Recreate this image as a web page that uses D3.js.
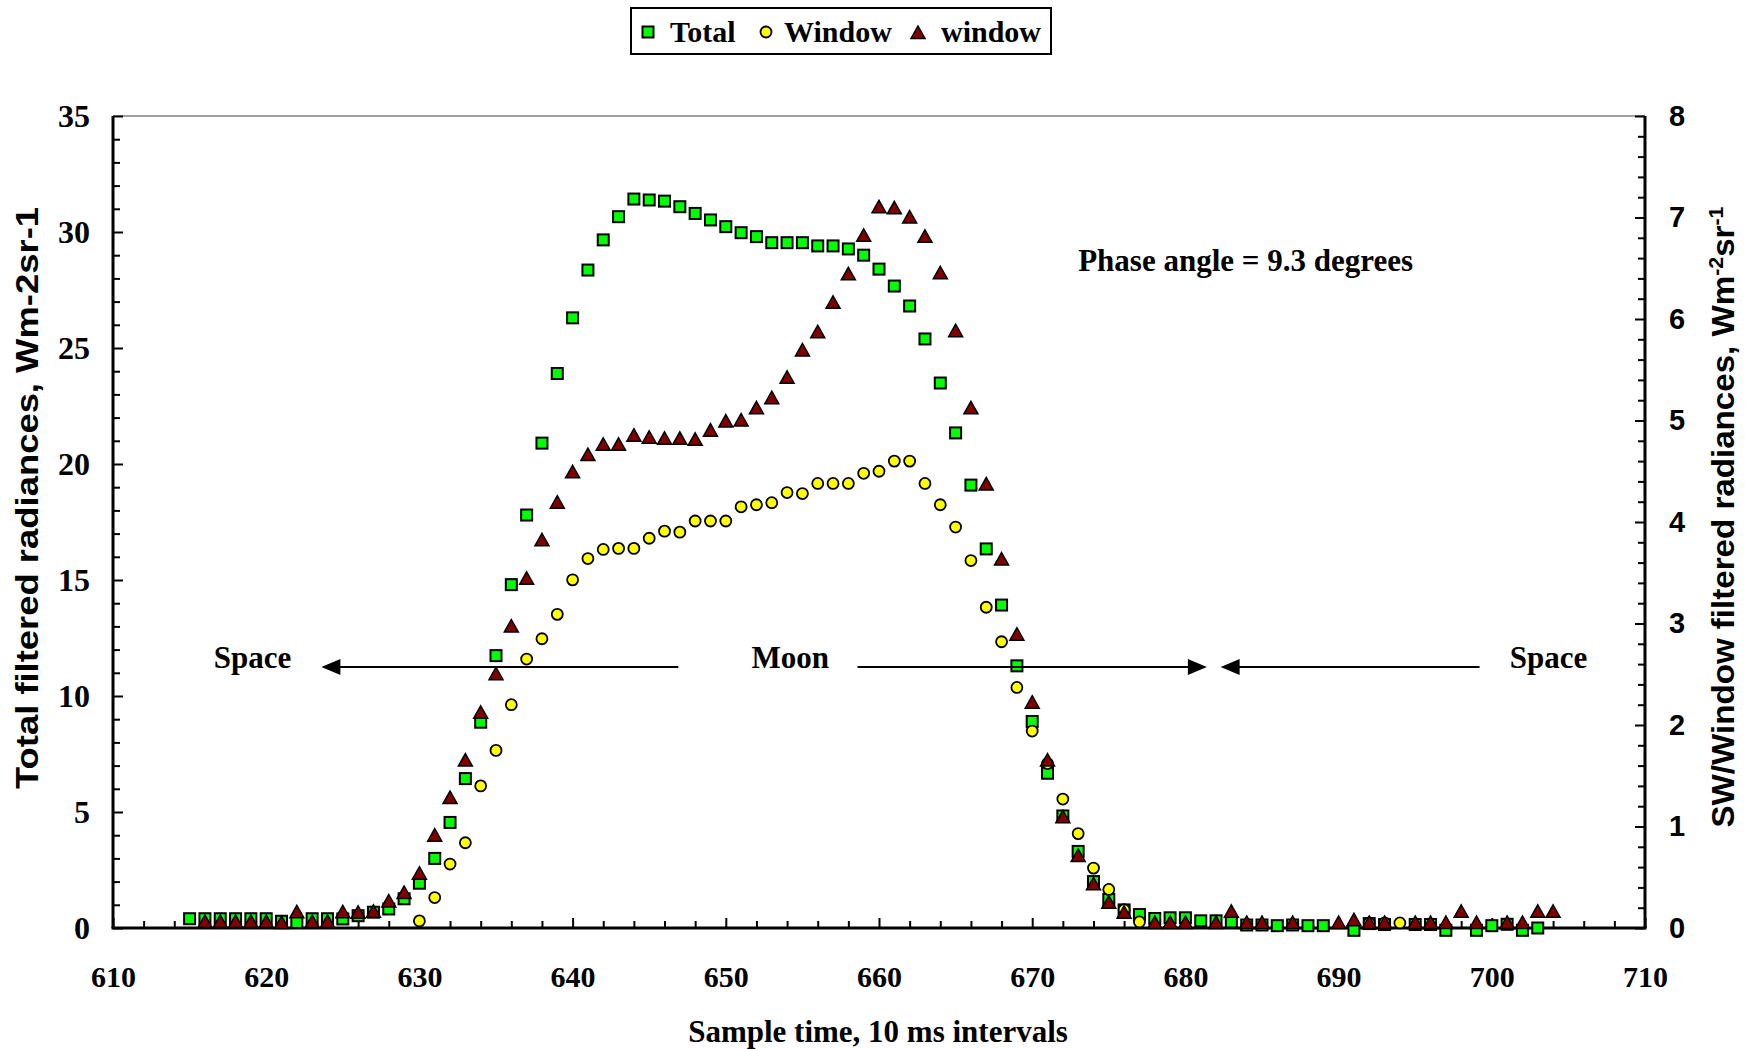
<!DOCTYPE html>
<html>
<head>
<meta charset="utf-8">
<script src="https://cdn.jsdelivr.net/npm/d3@7/dist/d3.min.js"></script>
<style>
  html, body { margin: 0; padding: 0; background: #ffffff; }
  svg { display: block; }
  .serif { font-family: "Liberation Serif", "Times New Roman", serif; font-weight: bold; }
  .sans { font-family: "Liberation Sans", Arial, sans-serif; font-weight: bold; }
  .narrow { font-family: "Liberation Sans Narrow", "Arial Narrow", "Liberation Sans", Arial, sans-serif; font-weight: bold; }
</style>
</head>
<body>
<svg id="chart" width="1754" height="1049"></svg>
<script>
// Sample times (10 ms intervals) and total filtered radiance (left axis, Wm-2sr-1)
const totalTimes = [615,616,617,618,619,620,621,622,623,624,625,626,627,628,629,630,631,632,633,634,635,636,637,638,639,640,641,642,643,644,645,646,647,648,649,650,651,652,653,654,655,656,657,658,659,660,661,662,663,664,665,666,667,668,669,670,671,672,673,674,675,676,677,678,679,680,681,682,683,684,685,686,687,688,689,691,692,693,695,696,697,699,700,701,702,703];
const totalValues = [0.40,0.40,0.40,0.40,0.40,0.40,0.29,0.24,0.40,0.40,0.39,0.53,0.68,0.82,1.26,1.93,3.00,4.55,6.44,8.87,11.74,14.80,17.80,20.90,23.90,26.30,28.36,29.66,30.66,31.42,31.38,31.33,31.09,30.80,30.52,30.23,29.97,29.80,29.54,29.54,29.54,29.40,29.40,29.27,29.00,28.40,27.67,26.81,25.39,23.49,21.34,19.09,16.34,13.92,11.30,8.90,6.67,4.83,3.30,2.00,1.23,0.78,0.58,0.41,0.44,0.44,0.31,0.31,0.26,0.13,0.13,0.10,0.13,0.10,0.10,-0.10,0.19,0.15,0.15,0.15,-0.10,-0.10,0.10,0.16,-0.10,0.00];

// SW "Window" filtered radiance (right axis)
const windowTimes = [630,631,632,633,634,635,636,637,638,639,640,641,642,643,644,645,646,647,648,649,650,651,652,653,654,655,656,657,658,659,660,661,662,663,664,665,666,667,668,669,670,671,672,673,674,675,676,677,692,693,694];
const windowValues = [0.07,0.30,0.63,0.84,1.40,1.75,2.20,2.65,2.85,3.09,3.43,3.64,3.73,3.74,3.74,3.84,3.91,3.90,4.01,4.01,4.01,4.15,4.17,4.19,4.29,4.28,4.38,4.38,4.38,4.48,4.50,4.60,4.60,4.38,4.17,3.95,3.62,3.16,2.82,2.37,1.94,1.62,1.27,0.93,0.59,0.38,0.18,0.06,0.05,0.05,0.05];

// "window" channel filtered radiance (right axis)
const window2Times = [616,617,618,619,620,621,622,623,624,625,626,627,628,629,630,631,632,633,634,635,636,637,638,639,640,641,642,643,644,645,646,647,648,649,650,651,652,653,654,655,656,657,658,659,660,661,662,663,664,665,666,667,668,669,670,671,672,673,674,675,676,678,679,680,682,683,684,685,687,690,691,692,693,695,696,697,698,699,701,702,703,704];
const window2Values = [0.06,0.06,0.06,0.06,0.06,0.05,0.155,0.06,0.06,0.155,0.15,0.16,0.26,0.345,0.535,0.91,1.28,1.65,2.12,2.50,2.97,3.44,3.82,4.19,4.49,4.66,4.76,4.76,4.85,4.83,4.82,4.82,4.81,4.90,4.99,5.00,5.12,5.22,5.42,5.69,5.87,6.16,6.44,6.82,7.10,7.09,7.00,6.81,6.45,5.88,5.12,4.37,3.63,2.89,2.22,1.65,1.09,0.71,0.43,0.25,0.15,0.05,0.05,0.05,0.05,0.16,0.05,0.05,0.05,0.05,0.077,0.05,0.05,0.05,0.05,0.05,0.16,0.05,0.05,0.05,0.16,0.16];

// Axis ranges and tick values
const xDomain = [610, 710];
const xMajorTicks = [610,620,630,640,650,660,670,680,690,700,710];
const yLeftDomain = [0, 35];
const yLeftMajorTicks = [0,5,10,15,20,25,30,35];
const yRightDomain = [0, 8];
const yRightMajorTicks = [0,1,2,3,4,5,6,7,8];

// Legend entries
const legendLabels = ["Total", "Window", "window"];

// Annotations (data units on the left axis)
const phaseText = "Phase angle = 9.3 degrees";
const regionLabels = [
  { text: "Space", t: 619.1, v: 11.7 },
  { text: "Moon",  t: 654.2, v: 11.7 },
  { text: "Space", t: 703.7, v: 11.7 }
];
const arrows = [
  { from: 646.9, to: 623.6, v: 11.25 },
  { from: 658.6, to: 681.4, v: 11.25 },
  { from: 699.2, to: 682.3, v: 11.25 }
];

const svg = d3.select("#chart");
const plot = { left: 113, right: 1645, top: 116, bottom: 928 };

const x = d3.scaleLinear().domain(xDomain).range([plot.left, plot.right]);
const yL = d3.scaleLinear().domain(yLeftDomain).range([plot.bottom, plot.top]);
const yR = d3.scaleLinear().domain(yRightDomain).range([plot.bottom, plot.top]);

// Top frame line
svg.append("line")
  .attr("x1", plot.left).attr("x2", plot.right)
  .attr("y1", plot.top).attr("y2", plot.top)
  .attr("stroke", "#808080").attr("stroke-width", 1.5);

function styleAxis(g) {
  g.select(".domain").remove();
  g.selectAll(".tick line").attr("stroke", "#000").attr("stroke-width", 2);
}

// Minor ticks
svg.append("g").attr("transform", `translate(0,${plot.bottom})`)
  .call(d3.axisBottom(x).tickValues(d3.range(612, 710, 2).filter(v => v % 10 !== 0)).tickSize(-7).tickFormat(""))
  .call(styleAxis);
svg.append("g").attr("transform", `translate(${plot.left},0)`)
  .call(d3.axisLeft(yL).tickValues(d3.range(1, 35, 1).filter(v => v % 5 !== 0)).tickSize(-7).tickFormat(""))
  .call(styleAxis);
svg.append("g").attr("transform", `translate(${plot.right},0)`)
  .call(d3.axisRight(yR).tickValues(d3.range(1, 40).map(i => i * 0.2).filter(v => Math.abs(v - Math.round(v)) > 1e-6)).tickSize(-7).tickFormat(""))
  .call(styleAxis);

// Major ticks with labels
const xAxis = svg.append("g").attr("transform", `translate(0,${plot.bottom})`)
  .call(d3.axisBottom(x).tickValues(xMajorTicks).tickSize(-10).tickPadding(38).tickFormat(d3.format("d")))
  .call(styleAxis);
xAxis.selectAll("text").attr("class", "serif").attr("font-size", 30).attr("fill", "#000");

const yLAxis = svg.append("g").attr("transform", `translate(${plot.left},0)`)
  .call(d3.axisLeft(yL).tickValues(yLeftMajorTicks).tickSize(-10).tickPadding(23).tickFormat(d3.format("d")))
  .call(styleAxis);
yLAxis.selectAll("text").attr("class", "serif").attr("font-size", 32).attr("fill", "#000");

const yRAxis = svg.append("g").attr("transform", `translate(${plot.right},0)`)
  .call(d3.axisRight(yR).tickValues(yRightMajorTicks).tickSize(-10).tickPadding(24).tickFormat(d3.format("d")))
  .call(styleAxis);
yRAxis.selectAll("text").attr("class", "sans").attr("font-size", 29).attr("fill", "#000");

// Axis lines
svg.append("line").attr("x1", plot.left).attr("x2", plot.left).attr("y1", plot.top).attr("y2", plot.bottom)
  .attr("stroke", "#000").attr("stroke-width", 3);
svg.append("line").attr("x1", plot.right).attr("x2", plot.right).attr("y1", plot.top).attr("y2", plot.bottom)
  .attr("stroke", "#000").attr("stroke-width", 3);
svg.append("line").attr("x1", plot.left - 1.5).attr("x2", plot.right + 1.5).attr("y1", plot.bottom).attr("y2", plot.bottom)
  .attr("stroke", "#000").attr("stroke-width", 3);

// Axis titles
svg.append("text").attr("class", "narrow")
  .attr("transform", `translate(38,498) rotate(-90)`)
  .attr("text-anchor", "middle").attr("font-size", 31)
  .attr("textLength", 582).attr("lengthAdjust", "spacingAndGlyphs")
  .text("Total filtered radiances, Wm-2sr-1");

const rTitle = svg.append("text").attr("class", "narrow")
  .attr("transform", `translate(1734,517) rotate(-90)`)
  .attr("text-anchor", "middle").attr("font-size", 31)
  .attr("textLength", 621).attr("lengthAdjust", "spacingAndGlyphs");
rTitle.append("tspan").text("SW/Window filtered radiances, Wm");
rTitle.append("tspan").attr("dy", -11).attr("font-size", 20).text("-2");
rTitle.append("tspan").attr("dy", 11).text("sr");
rTitle.append("tspan").attr("dy", -11).attr("font-size", 20).text("-1");

svg.append("text").attr("class", "serif")
  .attr("x", 878).attr("y", 1042)
  .attr("text-anchor", "middle").attr("font-size", 31)
  .text("Sample time, 10 ms intervals");

// Markers
const sqSize = 11;
function drawSquares(g, cx, cy) {
  g.append("rect").attr("x", cx - sqSize / 2).attr("y", cy - sqSize / 2)
    .attr("width", sqSize).attr("height", sqSize)
    .attr("fill", "#00ff00").attr("stroke", "#000").attr("stroke-width", 2);
}
function drawCircle(g, cx, cy) {
  g.append("ellipse").attr("cx", cx).attr("cy", cy).attr("rx", 5.5).attr("ry", 5.5)
    .attr("fill", "#ffff00").attr("stroke", "#000").attr("stroke-width", 1.8);
}
const triPath = "M0,-7 L7,5.5 L-7,5.5 Z";
function drawTriangle(g, cx, cy) {
  g.append("path").attr("d", triPath).attr("transform", `translate(${cx},${cy})`)
    .attr("fill", "#800000").attr("stroke", "#000").attr("stroke-width", 1.5).attr("stroke-linejoin", "miter");
}

const gTotal = svg.append("g");
totalTimes.forEach((t, i) => drawSquares(gTotal, x(t), yL(totalValues[i])));
const gWin = svg.append("g");
windowTimes.forEach((t, i) => drawCircle(gWin, x(t), yR(windowValues[i])));
const gWin2 = svg.append("g");
window2Times.forEach((t, i) => drawTriangle(gWin2, x(t), yR(window2Values[i])));

// Annotations
svg.append("text").attr("class", "serif")
  .attr("x", x(673)).attr("y", yL(28.8) + 11)
  .attr("font-size", 31).text(phaseText);

regionLabels.forEach(d => {
  svg.append("text").attr("class", "serif")
    .attr("x", x(d.t)).attr("y", yL(d.v) + 11)
    .attr("text-anchor", "middle").attr("font-size", 31).text(d.text);
});

arrows.forEach(a => {
  const x0 = x(a.from), x1 = x(a.to), yy = yL(a.v);
  const dir = x1 > x0 ? 1 : -1;
  const headLen = 19;
  svg.append("line").attr("x1", x0).attr("x2", x1 - dir * headLen + dir * 2)
    .attr("y1", yy).attr("y2", yy).attr("stroke", "#000").attr("stroke-width", 2);
  svg.append("path")
    .attr("d", `M${x1},${yy} L${x1 - dir * headLen},${yy - 8} L${x1 - dir * headLen},${yy + 8} Z`)
    .attr("fill", "#000");
});

// Legend
const legend = svg.append("g");
legend.append("rect").attr("x", 631).attr("y", 8).attr("width", 420).attr("height", 46)
  .attr("fill", "#fff").attr("stroke", "#000").attr("stroke-width", 2);
drawSquares(legend, 648, 32);
drawCircle(legend, 766, 32);
drawTriangle(legend, 918, 33);
const legendX = [670, 784, 941];
legendLabels.forEach((lab, i) => {
  legend.append("text").attr("class", "serif")
    .attr("x", legendX[i]).attr("y", 42).attr("font-size", 30).text(lab);
});
</script>
</body>
</html>
